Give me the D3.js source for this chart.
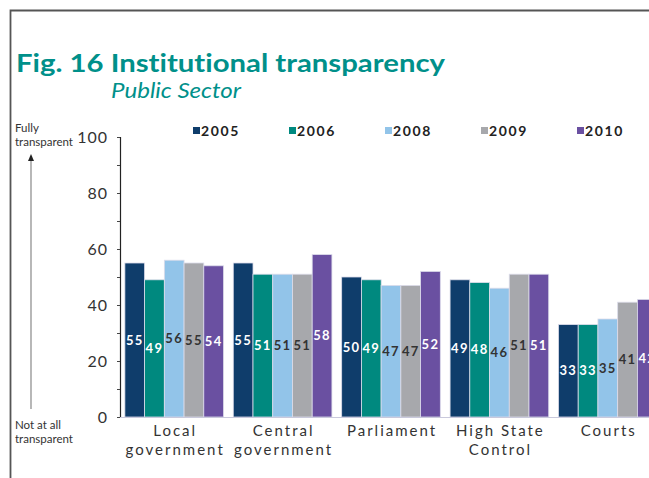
<!DOCTYPE html>
<html>
<head>
  <meta charset="UTF-8" />
  <title>Fig. 16 Institutional transparency</title>
  <script src="https://d3js.org/d3.v7.min.js"></script>
  <style>
    body { margin: 0; background: #fff; }
    svg text { font-family: Lato, "Open Sans", sans-serif; font-variant-ligatures: none; }
  </style>
</head>
<body>
  <div id="chart"></div>
  <script>
    // data
    const categories = ["Local government", "Central government", "Parliament", "High State Control", "Courts"];
    const categoryLines = [["Local", "government"], ["Central", "government"], ["Parliament"], ["High State", "Control"], ["Courts"]];
    const years = ["2005", "2006", "2008", "2009", "2010"];
    const values2005 = [55, 55, 50, 49, 33];
    const values2006 = [49, 51, 49, 48, 33];
    const values2008 = [56, 51, 47, 46, 35];
    const values2009 = [55, 51, 47, 51, 41];
    const values2010 = [54, 58, 52, 51, 42];
    const yTicks = [0, 10, 20, 30, 40, 50, 60, 70, 80, 90, 100];

    const seriesValues = [values2005, values2006, values2008, values2009, values2010];
    const colors = ["#0f3d6b", "#00897f", "#92c4e9", "#a7a8ac", "#6a50a1"];
    const labelColors = ["#fff", "#fff", "#333", "#333", "#fff"];

    const width = 649, height = 478;
    const svg = d3.select("#chart")
      .append("svg")
      .attr("width", width)
      .attr("height", height);

    // frame (only left and top edges are visible)
    svg.append("path")
      .attr("d", "M10.5," + height + " V10.5 H" + width)
      .attr("fill", "none")
      .attr("stroke", "#555")
      .attr("stroke-width", 1.8);

    // titles
    const teal = "#00908a";
    svg.append("text")
      .attr("x", 16)
      .attr("y", 72)
      .attr("fill", teal)
      .attr("font-size", 25)
      .attr("font-weight", "bold")
      .attr("textLength", 429)
      .attr("lengthAdjust", "spacingAndGlyphs")
      .text("Fig. 16 Institutional transparency");
    svg.append("text")
      .attr("x", 111)
      .attr("y", 98)
      .attr("fill", teal)
      .attr("font-size", 21)
      .attr("font-style", "italic")
      .attr("textLength", 130)
      .attr("lengthAdjust", "spacingAndGlyphs")
      .text("Public Sector");

    // scales
    const y = d3.scaleLinear().domain([0, 100]).range([417, 137]);
    const x0 = d3.scaleBand()
      .domain(categories)
      .range([120, 662])
      .paddingInner(0.09)
      .paddingOuter(0.045);
    const x1 = d3.scaleBand()
      .domain(years)
      .range([0, x0.bandwidth()]);

    // y axis
    const yAxis = d3.axisLeft(y)
      .tickValues(yTicks)
      .tickSize(3)
      .tickPadding(9)
      .tickFormat(d => d % 20 === 0 ? d : "");
    const gy = svg.append("g")
      .attr("transform", "translate(120,0)")
      .call(yAxis);
    gy.select(".domain").attr("stroke", "#222").attr("stroke-width", 1.2);
    gy.selectAll(".tick line").attr("stroke", "#444");
    gy.selectAll(".tick text")
      .attr("fill", "#333")
      .attr("font-size", 16)
      .style("letter-spacing", "1px");

    // bars
    const groups = svg.append("g")
      .selectAll("g")
      .data(categories)
      .join("g")
      .attr("transform", d => "translate(" + x0(d) + ",0)");

    const bars = groups.selectAll("g.bar")
      .data((c, i) => years.map((yr, j) => ({ year: yr, idx: j, value: seriesValues[j][i] })))
      .join("g")
      .attr("class", "bar");

    bars.append("rect")
      .attr("x", d => x1(d.year))
      .attr("y", d => y(d.value))
      .attr("width", x1.bandwidth())
      .attr("height", d => y(0) - y(d.value))
      .attr("fill", d => colors[d.idx])
      .attr("stroke", "#dcdcea")
      .attr("stroke-width", 0.8);

    bars.append("text")
      .attr("x", d => x1(d.year) + x1.bandwidth() / 2)
      .attr("y", d => (y(d.value) + y(0)) / 2)
      .attr("dy", "0.35em")
      .attr("text-anchor", "middle")
      .attr("fill", d => labelColors[d.idx])
      .attr("font-size", 13)
      .attr("font-weight", "bold")
      .style("letter-spacing", "1.3px")
      .text(d => d.value);

    // baseline
    svg.append("line")
      .attr("x1", 120).attr("x2", width)
      .attr("y1", y(0) + 0.5).attr("y2", y(0) + 0.5)
      .attr("stroke", "#c9c9dc")
      .attr("stroke-width", 1);

    // category labels
    svg.append("g")
      .selectAll("text")
      .data(categories)
      .join("text")
      .attr("x", d => x0(d) + x0.bandwidth() / 2 + 1)
      .attr("y", 436)
      .attr("text-anchor", "middle")
      .attr("fill", "#333")
      .attr("font-size", 15)
      .style("letter-spacing", "2px")
      .selectAll("tspan")
      .data((d, i) => categoryLines[i])
      .join("tspan")
      .attr("x", function () { return d3.select(this.parentNode).attr("x"); })
      .attr("dy", (d, i) => i === 0 ? 0 : 19)
      .text(d => d);

    // legend
    const legend = svg.append("g")
      .selectAll("g")
      .data(years)
      .join("g")
      .attr("transform", (d, i) => "translate(" + (193 + i * 96) + ",136)");
    legend.append("rect")
      .attr("x", 0).attr("y", -9)
      .attr("width", 7).attr("height", 7)
      .attr("fill", (d, i) => colors[i]);
    legend.append("text")
      .attr("x", 8)
      .attr("y", 0)
      .attr("fill", "#222")
      .attr("font-size", 14)
      .attr("font-weight", "bold")
      .style("letter-spacing", "1.6px")
      .text(d => d);

    // side annotation with arrow
    const side = svg.append("g").attr("fill", "#333").attr("font-size", 11.5);
    side.append("text").attr("x", 15).attr("y", 132).text("Fully");
    side.append("text").attr("x", 15).attr("y", 146).text("transparent");
    side.append("text").attr("x", 15).attr("y", 429).text("Not at all");
    side.append("text").attr("x", 15).attr("y", 443).text("transparent");
    svg.append("line")
      .attr("x1", 31).attr("x2", 31)
      .attr("y1", 409).attr("y2", 160)
      .attr("stroke", "#888")
      .attr("stroke-width", 1.2);
    svg.append("path")
      .attr("d", "M31,154 L28,161 L34,161 Z")
      .attr("fill", "#222");
  </script>
</body>
</html>
